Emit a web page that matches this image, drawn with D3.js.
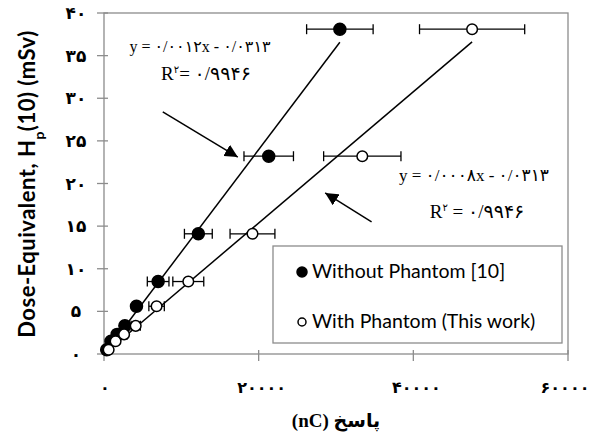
<!DOCTYPE html>
<html>
<head>
<meta charset="utf-8">
<script src="https://cdn.jsdelivr.net/npm/d3@7"></script>
<style>
  body { margin: 0; background: #fff; }
  svg { display: block; }
</style>
</head>
<body>
<div id="chart"></div>
<script>
// dose values (mSv) shared by both series
const dose = [0.5, 1.5, 2.3, 3.3, 5.6, 8.5, 14.1, 23.2, 38.1];
// response (nC) without phantom and its error
const respNoPhantom = [350, 900, 1700, 2700, 4200, 7000, 12200, 21300, 30500];
const errNoPhantom = [60, 150, 250, 400, 500, 1400, 1800, 3200, 4300];
// response (nC) with phantom and its error
const respPhantom = [600, 1500, 2600, 4100, 6800, 10900, 19200, 33400, 47600];
const errPhantom = [100, 250, 400, 600, 1000, 2000, 2900, 5000, 6800];
// trend lines as drawn (slope, intercept)
const trendSlopes = [0.0012, 0.00077];
const trendIntercepts = [-0.0313, -0.0313];
const trendEnds = [30500, 47600];

const xTicks = [0, 20000, 40000, 60000];
const yTicks = [0, 5, 10, 15, 20, 25, 30, 35, 40];
const seriesNames = ["Without Phantom [10]", "With Phantom (This work)"];
const eqTexts = [["y = ۰/۰۰۱۲x - ۰/۰۳۱۳", "۰/۹۹۴۶"], ["y = ۰/۰۰۰۸x - ۰/۰۳۱۳", "۰/۹۹۴۶"]];
// arrows [x tail, y tail, x tip, y tip] in data units
const arrows = [[7600, 28.4, 17300, 23.1], [34600, 15.5, 28600, 18.9]];

const fa = n => String(n).replace(/\d/g, d => "۰۱۲۳۴۵۶۷۸۹"[d]);

const width = 593, height = 445;
const svg = d3.select("#chart").append("svg").attr("width", width).attr("height", height);

const x = d3.scaleLinear().domain([0, 60000]).range([104, 568]);
const y = d3.scaleLinear().domain([0, 40]).range([354, 13]);

// plot frame
svg.append("rect")
  .attr("x", x(0)).attr("y", y(40))
  .attr("width", x(60000) - x(0)).attr("height", y(0) - y(40))
  .attr("fill", "none").attr("stroke", "#8c8c8c").attr("stroke-width", 1.3);

// y ticks
svg.selectAll(".ytick").data(yTicks).enter().append("line")
  .attr("x1", x(0) - 7).attr("x2", x(0) + 4)
  .attr("y1", d => y(d)).attr("y2", d => y(d))
  .attr("stroke", "#8c8c8c").attr("stroke-width", 1.3);
svg.selectAll(".ylab").data(yTicks).enter().append("text")
  .attr("x", 76).attr("y", d => y(d) + 6)
  .attr("text-anchor", "middle")
  .style("font", "bold 17px 'DejaVu Sans', serif")
  .text(d => fa(d));

// x ticks
svg.selectAll(".xtick").data(xTicks).enter().append("line")
  .attr("x1", d => x(d)).attr("x2", d => x(d))
  .attr("y1", y(0) - 4).attr("y2", y(0) + 7)
  .attr("stroke", "#8c8c8c").attr("stroke-width", 1.3);
svg.selectAll(".xlab").data(xTicks).enter().append("text")
  .attr("x", d => d === 0 ? x(d) + 1 : (d === 60000 ? x(d) - 3 : x(d) + 3)).attr("y", 393)
  .attr("text-anchor", "middle")
  .style("font", "bold 16px 'DejaVu Sans', serif")
  .text(d => fa(d));

// axis titles
svg.append("text")
  .attr("x", 336).attr("y", 427)
  .attr("text-anchor", "middle").attr("direction", "rtl")
  .style("font", "bold 19px 'Liberation Serif', 'DejaVu Sans', serif")
  .text("پاسخ (nC)");

const yTitle = svg.append("text")
  .attr("transform", "translate(35,184) rotate(-90)")
  .attr("text-anchor", "middle")
  .style("font", "bold 22px Lato, sans-serif")
  .style("letter-spacing", "0.5px");
yTitle.append("tspan").text("Dose-Equivalent, H");
yTitle.append("tspan").attr("baseline-shift", "sub").style("font-size", "14px").text("p");
yTitle.append("tspan").text("(10) (mSv)");

// trend lines
trendSlopes.forEach((s, i) => {
  svg.append("line")
    .attr("x1", x(0)).attr("y1", y(trendIntercepts[i]))
    .attr("x2", x(trendEnds[i])).attr("y2", y(s * trendEnds[i] + trendIntercepts[i]))
    .attr("stroke", "#000").attr("stroke-width", 1.5);
});

// error bars and markers
const series = [
  { resp: respNoPhantom, err: errNoPhantom, fill: "#000" },
  { resp: respPhantom, err: errPhantom, fill: "#fff" }
];
series.forEach(s => {
  const pts = dose.map((d, i) => ({ dose: d, resp: s.resp[i], err: s.err[i] }));
  const g = svg.append("g");
  const eb = g.selectAll(".eb").data(pts).enter().append("g");
  eb.append("line")
    .attr("x1", d => x(d.resp - d.err)).attr("x2", d => x(d.resp + d.err))
    .attr("y1", d => y(d.dose)).attr("y2", d => y(d.dose))
    .attr("stroke", "#000").attr("stroke-width", 1.3);
  [-1, 1].forEach(sign => {
    eb.append("line")
      .attr("x1", d => x(d.resp + sign * d.err)).attr("x2", d => x(d.resp + sign * d.err))
      .attr("y1", d => y(d.dose) - 5).attr("y2", d => y(d.dose) + 5)
      .attr("stroke", "#000").attr("stroke-width", 1.3);
  });
  g.selectAll(".pt").data(pts).enter().append("circle")
    .attr("cx", d => x(d.resp)).attr("cy", d => y(d.dose))
    .attr("r", s.fill === "#000" ? 6 : 5.3)
    .attr("fill", s.fill).attr("stroke", "#000").attr("stroke-width", 1.5);
});

// arrows
svg.append("defs").append("marker")
  .attr("id", "ah").attr("viewBox", "0 0 10 10")
  .attr("refX", 10).attr("refY", 5)
  .attr("markerWidth", 13).attr("markerHeight", 13).attr("markerUnits", "userSpaceOnUse")
  .attr("orient", "auto")
  .append("path").attr("d", "M0,0 L10,5 L0,10 Z").attr("fill", "#000");
svg.selectAll(".arrow").data(arrows).enter().append("line")
  .attr("x1", d => x(d[0])).attr("y1", d => y(d[1]))
  .attr("x2", d => x(d[2])).attr("y2", d => y(d[3]))
  .attr("stroke", "#000").attr("stroke-width", 1.5)
  .attr("marker-end", "url(#ah)");

// equations
const eqPos = [[200, 52, 206, 80], [474, 181, 477, 218]];
const eqSize = [16, 17];
eqTexts.forEach((t, i) => {
  const p = eqPos[i];
  svg.append("text")
    .attr("x", p[0]).attr("y", p[1]).attr("text-anchor", "middle")
    .style("font", eqSize[i] + "px 'Liberation Serif', 'DejaVu Sans', serif")
    .text(t[0]);
  const r = svg.append("text")
    .attr("x", p[2]).attr("y", p[3]).attr("text-anchor", "middle")
    .style("font", "19px 'Liberation Serif', 'DejaVu Sans', serif");
  r.append("tspan").text("R");
  r.append("tspan").attr("dy", -7).style("font-size", "10px").text("۲");
  r.append("tspan").attr("dy", 7).text(i === 0 ? "= " + t[1] : " = " + t[1]);
});

// legend
svg.append("rect")
  .attr("x", 273).attr("y", 246).attr("width", 289).attr("height", 97)
  .attr("fill", "#fff").attr("stroke", "#8c8c8c").attr("stroke-width", 1.3);
seriesNames.forEach((name, i) => {
  const cy = 272 + i * 50;
  svg.append("circle")
    .attr("cx", 302).attr("cy", cy).attr("r", i === 0 ? 5 : 4)
    .attr("fill", i === 0 ? "#000" : "#fff").attr("stroke", "#000").attr("stroke-width", 1.5);
  svg.append("text")
    .attr("x", 312).attr("y", cy + 6)
    .style("font", "19.5px Lato, sans-serif")
    .text(name);
});
</script>
</body>
</html>
